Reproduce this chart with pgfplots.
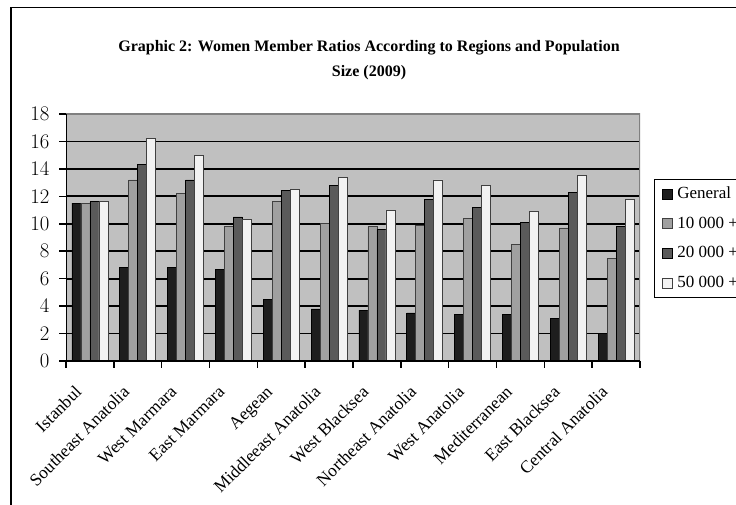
\documentclass[border=0pt]{standalone}
\usepackage{pgfplots}
\pgfplotsset{compat=1.18}
\usepackage{fontspec}
\setmainfont{Liberation Serif}
\definecolor{cGen}{HTML}{1E1E1E}
\definecolor{cTen}{HTML}{A0A0A0}
\definecolor{cTwenty}{HTML}{5A5A5A}
\definecolor{cFifty}{HTML}{F2F2F2}
\definecolor{plotbg}{HTML}{C0C0C0}
\definecolor{frameg}{HTML}{808080}
\begin{document}
\begin{tikzpicture}[x=1pt,y=1pt]
\useasboundingbox (0,0) rectangle (736,505);
\begin{scope}
\clip (0,0) rectangle (736,505);
\draw[black, line width=1.5pt] (11,-10) -- (11,497.5) -- (760,497.5);
\node[font=\bfseries\fontsize{16}{25}\selectfont, align=center] at (369,444.5)
  {Graphic 2: Women Member Ratios According to Regions and Population\\Size (2009)};
\begin{axis}[
  at={(66pt,144pt)}, anchor=south west, scale only axis,
  width=574pt, height=247pt,
  xmin=0, xmax=12, ymin=0, ymax=18,
  ybar=0pt, bar width=9pt,
  axis background/.style={fill=plotbg},
  axis line style={draw=none},
  ytick={0,2,...,18},
  ymajorgrids, major grid style={black, line width=1.8pt},
  xtick={0,1,...,12}, xticklabels={},
  extra x ticks={0.5,1.5,...,11.5},
  extra x tick labels={Istanbul,Southeast Anatolia,West Marmara,East Marmara,Aegean,Middleeast Anatolia,West Blacksea,Northeast Anatolia,West Anatolia,Mediterranean,East Blacksea,Central Anatolia},
  extra x tick style={major tick length=0pt, grid=none},
  x tick label style={xshift=-16pt, yshift=-22pt, rotate=45, anchor=north east, font=\fontsize{17.5}{19}\selectfont, inner sep=1pt},
  y tick label style={font=\fontsize{19.5}{21}\selectfont, xshift=-6pt},
  tick align=outside, tick pos=left, major tick length=7pt,
  tick style={black, line width=1.5pt},
  legend style={at={(axis description cs:1.0244,0.737)}, anchor=north west,
    draw=black, line width=1pt, font=\fontsize{17}{19}\selectfont,
    nodes={inner sep=1pt, text height=13pt, text depth=4pt},
    row sep=10.7pt, inner ysep=5pt, inner xsep=7pt},
  legend cell align=left,
  legend image code/.code={\draw[#1, line width=0.8pt] (0pt,-5pt) rectangle (10pt,5pt); \path (14pt,0pt);},
]
\addplot[fill=cGen, draw=black, line width=0.7pt] coordinates {
(0.5,11.5) (1.5,6.8) (2.5,6.8) (3.5,6.7) (4.5,4.5) (5.5,3.8) (6.5,3.7) (7.5,3.5) (8.5,3.4) (9.5,3.4) (10.5,3.1) (11.5,2.0)};
\addplot[fill=cTen, draw=black!75, line width=0.7pt] coordinates {
(0.5,11.5) (1.5,13.2) (2.5,12.2) (3.5,9.8) (4.5,11.6) (5.5,10.0) (6.5,9.8) (7.5,9.9) (8.5,10.4) (9.5,8.5) (10.5,9.7) (11.5,7.5)};
\addplot[fill=cTwenty, draw=black, line width=0.7pt] coordinates {
(0.5,11.6) (1.5,14.3) (2.5,13.2) (3.5,10.5) (4.5,12.4) (5.5,12.8) (6.5,9.6) (7.5,11.8) (8.5,11.2) (9.5,10.1) (10.5,12.3) (11.5,9.8)};
\addplot[fill=cFifty, draw=black!75, line width=0.7pt] coordinates {
(0.5,11.6) (1.5,16.2) (2.5,15.0) (3.5,10.3) (4.5,12.5) (5.5,13.4) (6.5,11.0) (7.5,13.2) (8.5,12.8) (9.5,10.9) (10.5,13.5) (11.5,11.8)};
\legend{General\hspace{30pt},10 000 +,20 000 +,50 000 +}
\draw[frameg, line width=1.5pt] (rel axis cs:0,1) -- (rel axis cs:1,1) -- (rel axis cs:1,0);
\draw[black, line width=1.5pt] (rel axis cs:0,1) -- (rel axis cs:0,0) -- (rel axis cs:1,0);
\end{axis}
\end{scope}
\end{tikzpicture}
\end{document}
